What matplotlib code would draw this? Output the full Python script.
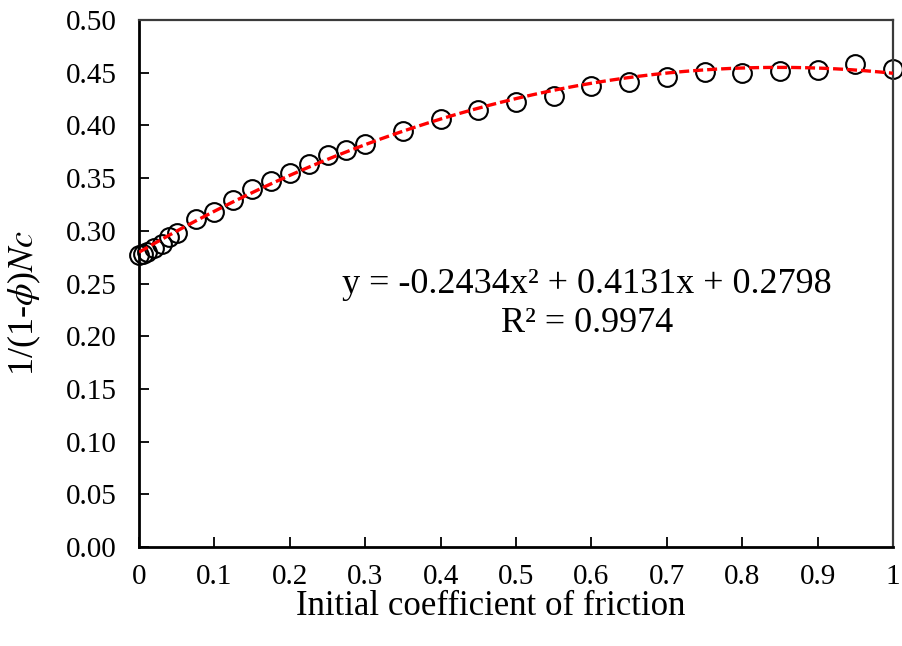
import numpy as np
import matplotlib
matplotlib.use("Agg")
import matplotlib.pyplot as plt

# data
friction = [0.0, 0.005, 0.01, 0.02, 0.03, 0.04, 0.05, 0.075, 0.1, 0.125, 0.15,
            0.175, 0.2, 0.225, 0.25, 0.275, 0.3, 0.35, 0.4, 0.45, 0.5, 0.55,
            0.6, 0.65, 0.7, 0.75, 0.8, 0.85, 0.9, 0.95, 1.0]
inv_nc = [0.277, 0.278, 0.280, 0.284, 0.288, 0.294, 0.298, 0.311, 0.318, 0.329, 0.340,
          0.347, 0.355, 0.363, 0.372, 0.377, 0.382, 0.395, 0.406, 0.415, 0.422, 0.428,
          0.437, 0.441, 0.446, 0.451, 0.450, 0.452, 0.453, 0.458, 0.454]

# Excel-style quadratic trendline shown on the chart
fit_coeffs = [-0.2434, 0.4131, 0.2798]
fit_r2 = 0.9974

x_ticks = [0, 0.1, 0.2, 0.3, 0.4, 0.5, 0.6, 0.7, 0.8, 0.9, 1.0]
x_tick_labels = ["0", "0.1", "0.2", "0.3", "0.4", "0.5", "0.6", "0.7", "0.8", "0.9", "1"]
y_ticks = [0.0, 0.05, 0.10, 0.15, 0.20, 0.25, 0.30, 0.35, 0.40, 0.45, 0.50]

plt.rcParams["font.family"] = ["Liberation Serif", "DejaVu Serif"]
plt.rcParams["mathtext.fontset"] = "stix"

fig = plt.figure(figsize=(9.03, 6.46), dpi=100)
ax = fig.add_axes([0.154, 0.153, 0.835, 0.816])

xf = np.linspace(0, 1, 200)
ax.plot(xf, np.polyval(fit_coeffs, xf), color="red", linestyle=(0, (3.0, 1.2)),
        linewidth=2.4, zorder=3)
ax.plot(friction, inv_nc, linestyle="none", marker="o", markersize=13.5,
        markerfacecolor="none", markeredgecolor="black", markeredgewidth=1.5,
        zorder=2, clip_on=False)

ax.set_xlim(0, 1)
ax.set_ylim(0, 0.5)
ax.set_xticks(x_ticks)
ax.set_xticklabels(x_tick_labels)
ax.set_yticks(y_ticks)
ax.set_yticklabels([f"{v:.2f}" for v in y_ticks])
ax.tick_params(axis="both", direction="in", length=7, width=1.3, labelsize=21)
ax.tick_params(axis="x", pad=12)
ax.tick_params(axis="y", pad=16)

for side in ("left", "bottom"):
    ax.spines[side].set_linewidth(2.0)
    ax.spines[side].set_color("black")
for side in ("top", "right"):
    ax.spines[side].set_linewidth(1.6)
    ax.spines[side].set_color("#3a3a3a")

ax.set_xlabel("Initial coefficient of friction", fontsize=25)
ax.set_ylabel(r"1/(1-$\phi$)$Nc$", fontsize=26)
ax.xaxis.set_label_coords(0.467, -0.082)
ax.yaxis.set_label_coords(-0.128, 0.463)

eq = f"y = {fit_coeffs[0]:.4f}x² + {fit_coeffs[1]:.4f}x + {fit_coeffs[2]:.4f}"
ax.text(0.594, 0.249, eq, ha="center", va="center", fontsize=26)
ax.text(0.594, 0.2125, f"R² = {fit_r2:.4f}", ha="center", va="center", fontsize=26)

fig.savefig("out.png", dpi=100)
